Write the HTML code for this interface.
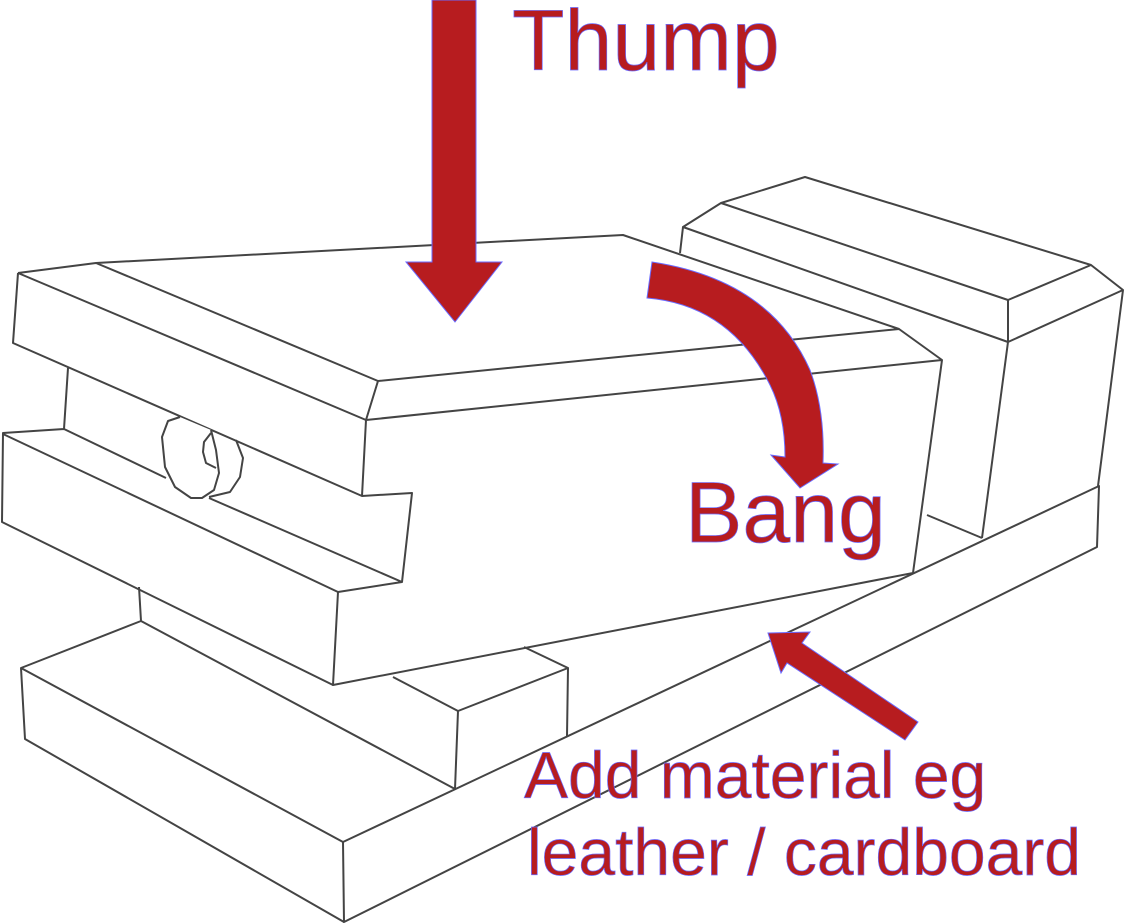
<!DOCTYPE html>
<html><head><meta charset="utf-8"><style>
html,body{margin:0;padding:0;background:#fff;}
svg{display:block;}
text{font-family:"Liberation Sans",Arial,sans-serif;fill:#b71c1f;stroke:#6a6aff;stroke-width:0.7;}
</style></head><body>
<svg width="1126" height="924" viewBox="0 0 1126 924" xmlns="http://www.w3.org/2000/svg">
<g fill="none" stroke="#444" stroke-width="2" stroke-linejoin="round">
<path d="M343,842 L1099,486 L1097,547 L344,922 Z" fill="#fff"/>
<path d="M139,587 L141,621 M141,621 L21,668 L25,739 L344,922 M21,668 L343,842 M141,621 L455,789 L458,711 L568,668 L567,736 M524,647 L568,668 M393,677 L458,711"/>
<path d="M680,253 L683,227 L721,203 L805,177 L1091,265 L1123,290 L1098,486 M721,203 L1008,300 L1091,265 M683,227 L1008,342 L1123,290 M1008,300 L1008,342 L982,538 M927,515 L982,538"/>
<path d="M18,273 L96,263 L623,235 L899,329 L942,360 L913,573 L333,685 L338,592 L402,582 L412,493 L362,496 L366,420 L942,360 M96,263 L378,381 L899,329 M378,381 L366,420 M18,273 L366,420 M18,273 L13,343 L362,496"/>
<path d="M68,368 L64,429 L3,433 L2,522 L333,685 M64,429 L166,478 M3,434 L338,592 M209,498 L402,582"/>
<path d="M180,417 L168,421 L162,437 L165,467 L175,487 L191,498 L202,498 L214,490 L219,473 L216,450 L211,430" fill="#fff"/>
<path d="M236,440 L243,458 L240,477 L230,492 L209,497 M211,433 L204,442 L203,452 L206,463 L216,468"/>
</g>
<g fill="#b71c1f" stroke="#6a6aff" stroke-width="1">
<path d="M432,0 L476,0 L476,262 L502,262 L455,322 L406,262 L432,262 Z"/>
<path d="M652,262 Q770,280 810,370 Q825,410 823,463 L838,464 L800,488 L771,455 L785,457 Q785,415 770,385 Q730,305 647,298 Z"/>
<path d="M768,633 L810,632 L802,643 L918,722 L905,740 L787,663 L781,673 Z"/>
</g>
<text x="512" y="70" font-size="86">Thump</text>
<text x="685" y="542" font-size="86">Bang</text>
<text x="524" y="798" font-size="66">Add material eg</text>
<text x="527" y="875" font-size="66">leather / cardboard</text>
</svg>
</body></html>
